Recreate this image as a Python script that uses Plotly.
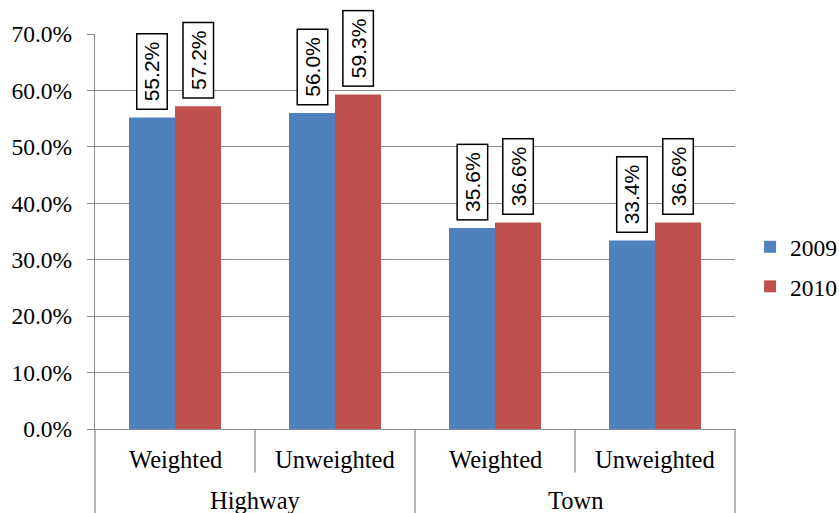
import plotly.graph_objects as go

# Data
groups = ["Highway", "Highway", "Town", "Town"]
methods = ["Weighted", "Unweighted", "Weighted", "Unweighted"]
years = ["2009", "2010"]
values_2009 = [55.2, 56.0, 35.6, 33.4]
values_2010 = [57.2, 59.3, 36.6, 36.6]
y_ticks = [0, 10, 20, 30, 40, 50, 60, 70]

colors = ["#4F81BD", "#C0504D"]
serif = "Liberation Serif, Times New Roman, serif"
sans = "Liberation Sans, Arial, sans-serif"
grid = "#8C8C8C"

fig = go.Figure()
for name, vals, col in zip(years, [values_2009, values_2010], colors):
    fig.add_trace(go.Bar(
        x=[groups, methods], y=vals, name=name,
        marker=dict(color=col, line=dict(width=0)),
        legendgroup=name,
    ))

bargap = 0.425
bar_w = (1 - bargap) / 2

annotations = []

# Boxed, rotated value labels above each bar
for k, vals in enumerate([values_2009, values_2010]):
    offset = (k - 0.5) * bar_w
    for i, v in enumerate(vals):
        annotations.append(dict(
            x=i + offset, y=v, xref="x", yref="y",
            text=f"\u2009{v:.1f}%\u2009", textangle=-90, showarrow=False,
            xanchor="center", yanchor="bottom", yshift=7,
            font=dict(family=sans, size=21, color="black"),
            bgcolor="white", bordercolor="black", borderwidth=1.5, borderpad=3,
        ))

# Two-level category labels under the axis
for i, m in enumerate(methods):
    annotations.append(dict(
        x=i, y=-0.076, xref="x", yref="paper", text=m, showarrow=False,
        xanchor="center", yanchor="middle",
        font=dict(family=serif, size=24.5, color="black"),
    ))
seen = []
for g in groups:
    if g not in seen:
        seen.append(g)
for g in seen:
    idx = [i for i, gg in enumerate(groups) if gg == g]
    annotations.append(dict(
        x=sum(idx) / len(idx), y=-0.18, xref="x", yref="paper", text=g,
        showarrow=False, xanchor="center", yanchor="middle",
        font=dict(family=serif, size=24.5, color="black"),
    ))

# Category dividers below the axis
shapes = []
for xp, depth in [(0, -0.215), (0.25, -0.11), (0.5, -0.215), (0.75, -0.11), (1, -0.215)]:
    shapes.append(dict(type="line", xref="paper", yref="paper",
                       x0=xp, x1=xp, y0=0, y1=depth,
                       line=dict(color=grid, width=1.3)))

fig.update_layout(
    width=839, height=513,
    margin=dict(l=95, r=104, t=34, b=84, autoexpand=False),
    paper_bgcolor="white", plot_bgcolor="white",
    barmode="group", bargap=bargap, bargroupgap=0,
    font=dict(family=serif, size=24, color="black"),
    showlegend=True,
    legend=dict(xref="container", yref="container",
                x=0.894, xanchor="left", y=0.4795, yanchor="middle",
                font=dict(family=serif, size=23.5), tracegroupgap=6,
                bgcolor="rgba(0,0,0,0)"),
    annotations=annotations,
    shapes=shapes,
)
fig.update_xaxes(
    type="multicategory", showdividers=False, showticklabels=False,
    showline=True, linecolor=grid, linewidth=1.3,
    ticks="", showgrid=False, automargin=False,
)
fig.update_yaxes(
    range=[0, 70], tickvals=y_ticks,
    ticktext=[f"{t:.1f}%" for t in y_ticks],
    showgrid=True, gridcolor=grid, gridwidth=1.3,
    showline=True, linecolor=grid, linewidth=1.3,
    ticks="outside", ticklen=7, tickcolor=grid, tickwidth=1.3,
    ticklabelstandoff=10, zeroline=False, automargin=False,
    tickfont=dict(family=serif, size=23.5, color="black"),
)

fig.write_html("out.html")
